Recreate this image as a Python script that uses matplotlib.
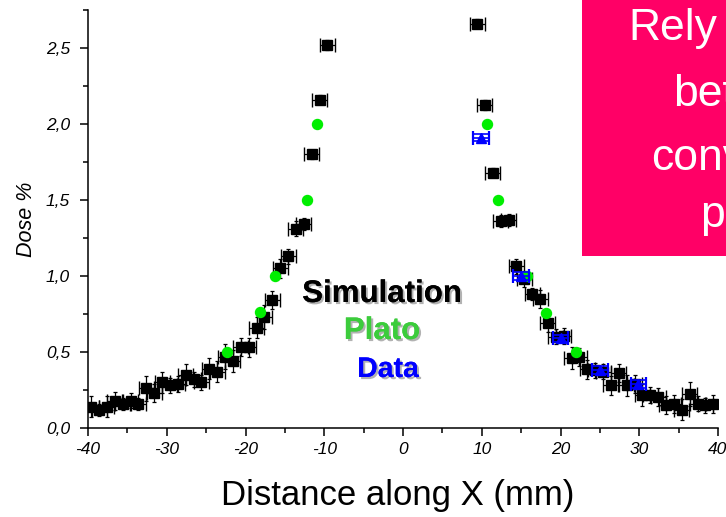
import matplotlib
matplotlib.use("Agg")
import matplotlib.pyplot as plt
from matplotlib.patches import Rectangle
from matplotlib.ticker import MultipleLocator, FuncFormatter
import matplotlib.patheffects as pe

plt.rcParams['font.family'] = ['Liberation Sans', 'DejaVu Sans']

# ---- Simulation (black squares) ----
sim_x = [-39.6, -38.6, -37.6, -36.6, -35.6, -34.6, -33.6, -32.6, -31.6, -30.6,
         -29.6, -28.6, -27.6, -26.6, -25.6, -24.6, -23.6, -22.6, -21.6, -20.6,
         -19.6, -18.6, -17.6, -16.6, -15.6, -14.6, -13.6, -12.6, -11.6, -10.6, -9.6,
         9.4, 10.4, 11.4, 12.4, 13.4, 14.4, 15.4, 16.4, 17.4, 18.4,
         19.4, 20.4, 21.4, 22.4, 23.4, 24.4, 25.4, 26.4, 27.4, 28.4,
         29.4, 30.4, 31.4, 32.4, 33.4, 34.4, 35.4, 36.4, 37.4, 38.4, 39.4]
sim_y = [0.14, 0.12, 0.14, 0.18, 0.16, 0.18, 0.16, 0.26, 0.23, 0.30,
         0.28, 0.29, 0.35, 0.32, 0.30, 0.39, 0.37, 0.47, 0.44, 0.535,
         0.53, 0.66, 0.73, 0.84, 1.05, 1.13, 1.31, 1.34, 1.80, 2.16, 2.52,
         2.66, 2.125, 1.68, 1.36, 1.37, 1.065, 0.98, 0.88, 0.85, 0.69,
         0.60, 0.605, 0.46, 0.465, 0.385, 0.38, 0.37, 0.28, 0.36, 0.28,
         0.29, 0.217, 0.217, 0.206, 0.15, 0.16, 0.12, 0.225, 0.16, 0.15, 0.16]
sim_yerr = [0.07, 0.04, 0.07, 0.06, 0.04, 0.05, 0.04, 0.08, 0.06, 0.07,
            0.05, 0.05, 0.07, 0.05, 0.05, 0.07, 0.07, 0.08, 0.07, 0.06,
            0.06, 0.07, 0.08, 0.06, 0.06, 0.05, 0.05, 0.04, 0.03, 0.03, 0.03,
            0.03, 0.03, 0.03, 0.04, 0.04, 0.05, 0.05, 0.04, 0.06, 0.06,
            0.05, 0.05, 0.07, 0.06, 0.06, 0.05, 0.05, 0.06, 0.06, 0.07,
            0.06, 0.07, 0.05, 0.06, 0.06, 0.06, 0.07, 0.08, 0.05, 0.05, 0.06]
sim_xerr = 0.95

# ---- Plato (green circles) ----
plato_x = [-22.3, -18.2, -16.2, -12.25, -10.9, 10.7, 12.1, 15.8, 18.1, 22.0]
plato_y = [0.50, 0.76, 1.00, 1.50, 2.00, 2.00, 1.50, 1.00, 0.755, 0.50]

# ---- Data (blue triangles) ----
data_x = [9.9, 15.0, 20.0, 25.0, 29.9]
data_y = [1.91, 1.00, 0.59, 0.38, 0.29]
data_yerr = [0.025, 0.025, 0.025, 0.025, 0.025]
data_xerr = 1.0

xticks = [-40, -30, -20, -10, 0, 10, 20, 30, 40]
yticks = [0.0, 0.5, 1.0, 1.5, 2.0, 2.5]

W, H = 726, 517
fig = plt.figure(figsize=(W / 100, H / 100), dpi=100)
ax = fig.add_axes([88 / W, 89 / H, 630 / W, 418 / H])

# simulation error bars
ax.errorbar(sim_x, sim_y, xerr=sim_xerr, fmt='none', ecolor='black',
            elinewidth=0.9, capsize=5.0, capthick=1.0, zorder=2)
ax.errorbar(sim_x, sim_y, yerr=sim_yerr, fmt='none', ecolor='black',
            elinewidth=0.9, capsize=1.5, capthick=0.9, zorder=2)
ax.plot(sim_x, sim_y, 's', color='black', markersize=6.5, zorder=3)

ax.plot(plato_x, plato_y, 'o', color='#00ee00', markersize=7.2, zorder=4)

ax.errorbar(data_x, data_y, xerr=data_xerr, fmt='none', ecolor='#0000ff',
            elinewidth=1.2, capsize=5.0, capthick=1.6, zorder=5)
ax.errorbar(data_x, data_y, yerr=data_yerr, fmt='none', ecolor='#0000ff',
            elinewidth=1.2, capsize=5.5, capthick=1.2, zorder=5)
ax.plot(data_x, data_y, '^', color='#0000ff', markersize=7.5, zorder=6)

ax.set_xlim(-40, 40)
ax.set_ylim(0, 2.75)
ax.set_xticks(xticks)
ax.set_yticks(yticks)
ax.xaxis.set_minor_locator(MultipleLocator(5))
ax.yaxis.set_minor_locator(MultipleLocator(0.25))
ax.set_xticklabels([str(t) for t in xticks])
ax.yaxis.set_major_formatter(FuncFormatter(lambda v, p: f"{v:.1f}".replace('.', ',')))
for lab in ax.get_xticklabels() + ax.get_yticklabels():
    lab.set_fontstyle('italic')
    lab.set_fontsize(12.5)
ax.tick_params(which='major', direction='out', length=6, width=1.1)
ax.tick_params(which='minor', direction='out', length=3.5, width=1.1)
ax.tick_params(axis='y', which='major', pad=7)
ax.tick_params(axis='x', which='major', pad=4)
ax.spines['top'].set_visible(False)
ax.spines['right'].set_visible(False)
ax.spines['left'].set_linewidth(1.1)
ax.spines['bottom'].set_linewidth(1.1)

ax.set_ylabel('Dose %', fontsize=15.5, fontstyle='italic', labelpad=6)
fig.text(398 / W, 1 - 505 / H, 'Distance along X (mm)', fontsize=25,
         ha='center', va='baseline')

shadow = [pe.withSimplePatchShadow(offset=(1.5, -1.5), shadow_rgbFace='gray', alpha=0.6), pe.Normal()]
fig.text(382 / W, 1 - 302 / H, 'Simulation', fontsize=22.5, fontweight='bold',
         color='black', ha='center', va='baseline', path_effects=shadow)
fig.text(382 / W, 1 - 339 / H, 'Plato', fontsize=22.5, fontweight='bold',
         color='#3ccc3c', ha='center', va='baseline', path_effects=shadow)
fig.text(388 / W, 1 - 377 / H, 'Data', fontsize=20.5, fontweight='bold',
         color='#0000ff', ha='center', va='baseline', path_effects=shadow)

# pink callout box (cut by right edge, as in the reference)
box = Rectangle((582 / W, 1 - 256 / H), (W - 582) / W, 256 / H,
                transform=fig.transFigure, facecolor='#ff0066', edgecolor='none', zorder=10)
fig.add_artist(box)
for txt, px, py in [('Rely', 628, 40), ('bet', 673, 106), ('conv', 651, 170), ('p', 700, 227)]:
    fig.text(px / W, 1 - py / H, txt, fontsize=32, color='white', ha='left',
             va='baseline', zorder=11)

fig.savefig('out.png', dpi=100)
